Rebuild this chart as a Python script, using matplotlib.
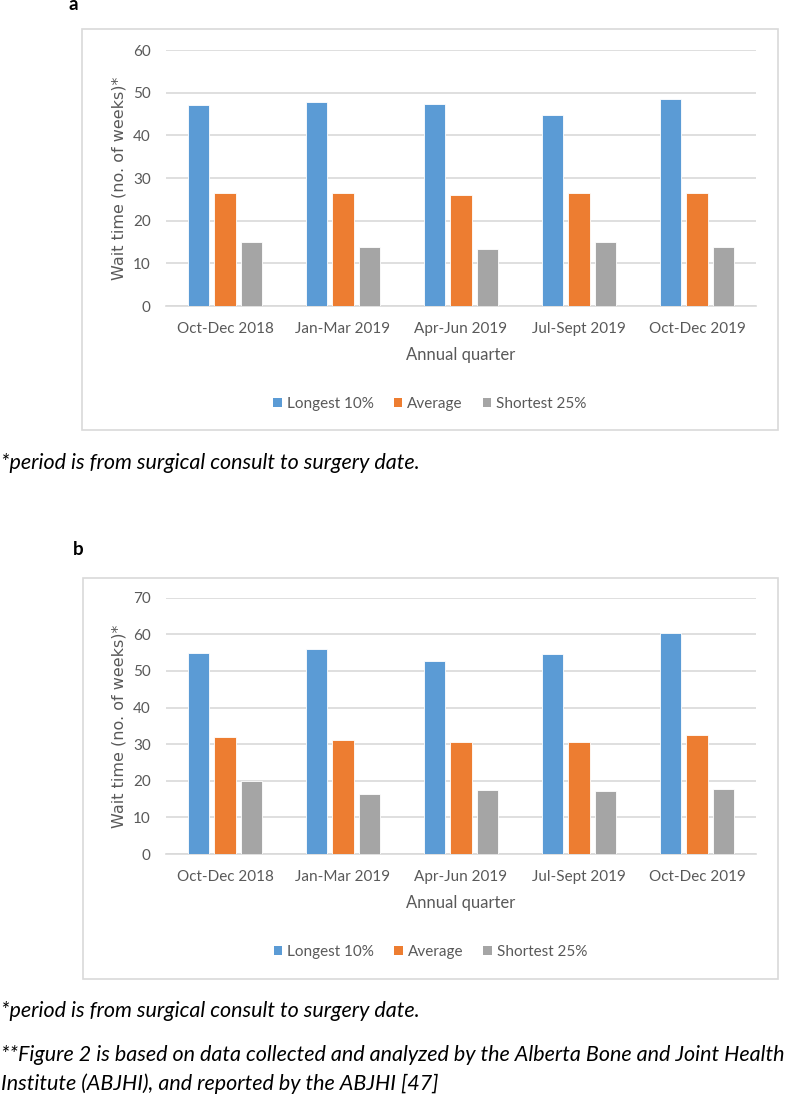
import matplotlib
matplotlib.use("Agg")
import matplotlib.pyplot as plt
from matplotlib.patches import Rectangle, Patch
import numpy as np

quarters = ["Oct-Dec 2018", "Jan-Mar 2019", "Apr-Jun 2019", "Jul-Sept 2019", "Oct-Dec 2019"]
series_names = ["Longest 10%", "Average", "Shortest 25%"]
colors = ["#5B9BD5", "#ED7D31", "#A5A5A5"]

a_longest = [47.0, 47.9, 47.3, 44.7, 48.6]
a_average = [26.4, 26.6, 25.9, 26.6, 26.6]
a_shortest = [15.0, 13.8, 13.4, 15.0, 13.8]

b_longest = [54.8, 56.0, 52.8, 54.6, 60.3]
b_average = [32.0, 31.2, 30.6, 30.5, 32.5]
b_shortest = [19.9, 16.4, 17.4, 17.3, 17.7]

a_yticks = [0, 10, 20, 30, 40, 50, 60]
b_yticks = [0, 10, 20, 30, 40, 50, 60, 70]

W, H = 787, 1095
fig = plt.figure(figsize=(W / 100, H / 100), dpi=100)

GRID = "#D9D9D9"
TXT = "#595959"
FONT = "Lato"


def fx(px):
    return px / W


def fy(py):
    return 1 - py / H


def panel(ax_box, frame_box, data, yticks, letter_pos, legend_y, xlabel_y):
    fl, ft, fr, fb = frame_box
    fig.patches.append(Rectangle((fx(fl), fy(fb)), fx(fr) - fx(fl), fy(ft) - fy(fb),
                                 transform=fig.transFigure, fill=False,
                                 edgecolor=GRID, linewidth=1.2))
    l, t, r, b = ax_box
    ax = fig.add_axes([fx(l), fy(b), fx(r) - fx(l), fy(t) - fy(b)])
    x = np.arange(len(quarters))
    offs = [-0.223, 0.0, 0.223]
    for vals, off, c in zip(data, offs, colors):
        ax.bar(x + off, vals, width=0.18, color=c, edgecolor="white", linewidth=0.6, zorder=3)
    ax.set_xlim(-0.5, len(quarters) - 0.5)
    ax.set_ylim(0, yticks[-1])
    ax.set_yticks(yticks)
    ax.set_yticklabels([str(v) for v in yticks], fontfamily=FONT, fontsize=11, color=TXT)
    ax.set_xticks(x)
    ax.set_xticklabels(quarters, fontfamily=FONT, fontsize=11, color=TXT)
    ax.tick_params(axis="y", length=0, pad=11)
    ax.tick_params(axis="x", length=0, pad=11.5)
    for s in ["top", "right", "left"]:
        ax.spines[s].set_visible(False)
    ax.spines["bottom"].set_color(GRID)
    ax.spines["bottom"].set_linewidth(1.2)
    ax.yaxis.grid(True, color=GRID, linewidth=1.2, zorder=0)
    ax.set_axisbelow(True)
    ax.set_ylabel("Wait time (no. of weeks)*", fontfamily="DejaVu Sans", fontsize=11.5,
                  color=TXT, labelpad=5)
    fig.text(fx((l + r) / 2), fy(xlabel_y), "Annual quarter", ha="center", va="center",
             fontfamily=FONT, fontsize=12, color=TXT)
    handles = [Patch(facecolor=c, edgecolor="none") for c in colors]
    fig.legend(handles, series_names, loc="center", bbox_to_anchor=(fx((fl + fr) / 2), fy(legend_y)),
               ncol=3, frameon=False, prop={"family": FONT, "size": 11},
               labelcolor=TXT, handlelength=0.55, handleheight=0.55, handletextpad=0.35,
               columnspacing=1.3)
    fig.text(fx(letter_pos[0]), fy(letter_pos[1]), letter_pos[2], ha="left",
             va="baseline", fontfamily=FONT, fontweight="bold", fontsize=13.5, color="black")
    return ax


panel((166, 50, 756, 306), (82, 29, 778, 430), [a_longest, a_average, a_shortest], a_yticks,
      (68.5, 10, "a"), 404, 355)
panel((166, 597.7, 756, 854), (83, 578, 778, 979), [b_longest, b_average, b_shortest], b_yticks,
      (72.5, 555, "b"), 952, 903)

FS = 15.5
foot = "*period is from surgical consult to surgery date."
fig.text(fx(1), fy(463), foot, ha="left", va="center", fontfamily=FONT, style="italic",
         fontsize=FS, color="black")
fig.text(fx(1), fy(1011), foot, ha="left", va="center", fontfamily=FONT, style="italic",
         fontsize=FS, color="black")
fig.text(fx(1), fy(1055), "**Figure 2 is based on data collected and analyzed by the Alberta Bone and Joint Health",
         ha="left", va="center", fontfamily=FONT, style="italic", fontsize=FS, color="black")
fig.text(fx(1), fy(1084), "Institute (ABJHI), and reported by the ABJHI [47]",
         ha="left", va="center", fontfamily=FONT, style="italic", fontsize=FS, color="black")

fig.savefig("out.png", dpi=100)
